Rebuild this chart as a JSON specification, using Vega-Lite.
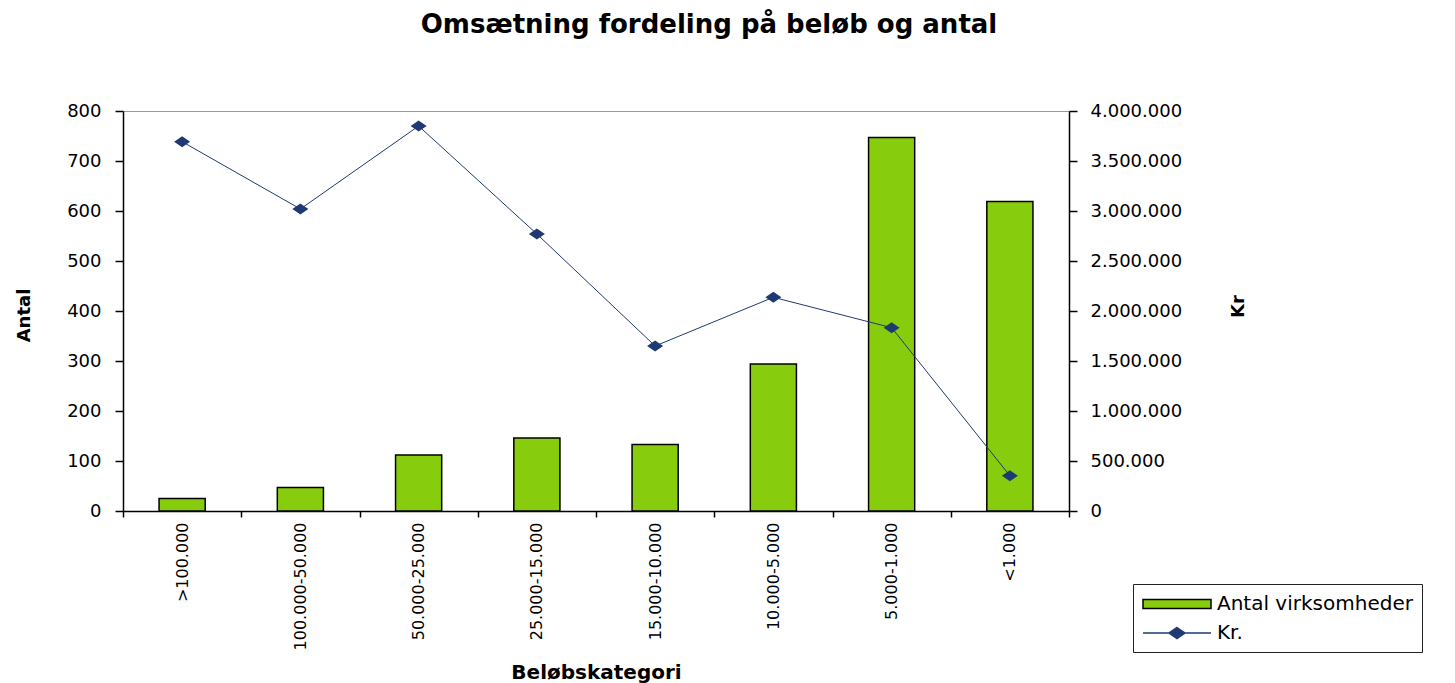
{
  "$schema": "https://vega.github.io/schema/vega-lite/v6.json",
  "width": 946,
  "height": 400,
  "autosize": "none",
  "padding": {"left": 123, "top": 111, "right": 386, "bottom": 172},
  "background": "white",
  "title": {
    "text": "Omsætning fordeling på beløb og antal",
    "font": "DejaVu Sans",
    "fontSize": 26,
    "fontWeight": "bold",
    "color": "black",
    "anchor": "middle",
    "frame": "group",
    "dx": 113,
    "baseline": "alphabetic",
    "offset": 43
  },
  "data": {
    "values": [
      {"kategori": ">100.000", "antal": 25, "kr": 3693000},
      {"kategori": "100.000-50.000", "antal": 47, "kr": 3020000},
      {"kategori": "50.000-25.000", "antal": 112, "kr": 3850000},
      {"kategori": "25.000-15.000", "antal": 146, "kr": 2770000},
      {"kategori": "15.000-10.000", "antal": 133, "kr": 1650000},
      {"kategori": "10.000-5.000", "antal": 294, "kr": 2137000},
      {"kategori": "5.000-1.000", "antal": 747, "kr": 1833000},
      {"kategori": "<1.000", "antal": 619, "kr": 353000}
    ]
  },
  "encoding": {
    "x": {
      "field": "kategori",
      "type": "nominal",
      "sort": null,
      "scale": {"paddingInner": 0, "paddingOuter": 0},
      "axis": {
        "title": "Beløbskategori",
        "titleFontSize": 20,
        "titleFontWeight": "bold",
        "titleY": 161,
        "titleBaseline": "middle",
        "labelAngle": 270,
        "labelAlign": "right",
        "labelBaseline": "middle",
        "labelFontSize": 16,
        "labelPadding": 5,
        "tickBand": "extent",
        "tickSize": 6
      }
    }
  },
  "layer": [
    {
      "mark": {"type": "bar", "width": {"band": 0.39}, "strokeWidth": 1.5},
      "encoding": {
        "y": {
          "field": "antal",
          "type": "quantitative",
          "scale": {"domain": [0, 800]},
          "axis": {
            "orient": "left",
            "title": "Antal",
            "titleFontSize": 18,
            "titleFontWeight": "bold",
            "titleAngle": 270,
            "titleX": -99,
            "titleY": 204,
            "titleAlign": "center",
            "titleBaseline": "middle",
            "values": [0, 100, 200, 300, 400, 500, 600, 700, 800],
            "labelFontSize": 18,
            "labelPadding": 14,
            "tickSize": 8
          }
        },
        "fill": {
          "datum": "Antal virksomheder",
          "scale": {"domain": ["Antal virksomheder", "Kr."], "range": ["#88CC0E", "#1F3A73"]},
          "legend": {
            "title": null,
            "orient": "none",
            "legendX": 1010,
            "legendY": 473,
            "padding": 9,
            "strokeColor": "#222222",
            "symbolSize": 400,
            "symbolStrokeWidth": 1.5,
            "symbolOffset": 24,
            "labelOffset": 29,
            "labelLimit": 400,
            "labelFont": "DejaVu Sans",
            "labelFontSize": 20,
            "labelColor": "black",
            "rowPadding": 8
          }
        },
        "stroke": {
          "datum": "Antal virksomheder",
          "scale": {"domain": ["Antal virksomheder", "Kr."], "range": ["#000000", "#1F3A73"]},
          "legend": {"title": null}
        }
      }
    },
    {
      "encoding": {
        "y": {
          "field": "kr",
          "type": "quantitative",
          "scale": {"domain": [0, 4000000]},
          "axis": {
            "orient": "right",
            "title": "Kr",
            "titleFontSize": 18,
            "titleFontWeight": "bold",
            "titleAngle": 270,
            "titleX": 169,
            "titleY": 195,
            "titleAlign": "center",
            "titleBaseline": "middle",
            "values": [0, 500000, 1000000, 1500000, 2000000, 2500000, 3000000, 3500000, 4000000],
            "labelExpr": "replace(format(datum.value, ','), regexp(',', 'g'), '.')",
            "labelFontSize": 18,
            "labelPadding": 13,
            "tickSize": 8
          }
        }
      },
      "layer": [
        {
          "mark": {"type": "line", "strokeWidth": 1},
          "encoding": {
            "stroke": {
              "datum": "Kr.",
              "scale": {"domain": ["Antal virksomheder", "Kr."], "range": ["#000000", "#1F3A73"]},
              "legend": {"title": null}
            }
          }
        },
        {
          "mark": {"type": "point", "filled": true, "size": 400, "opacity": 1},
          "encoding": {
            "fill": {
              "datum": "Kr.",
              "scale": {"domain": ["Antal virksomheder", "Kr."], "range": ["#88CC0E", "#1F3A73"]},
              "legend": {"title": null}
            },
            "shape": {
              "datum": "Kr.",
              "scale": {"domain": ["Antal virksomheder", "Kr."], "range": ["M-3.4,-0.45H3.4V0.45H-3.4Z", "M-3.4,0H3.4M0,-0.55L0.8,0L0,0.55L-0.8,0Z"]},
              "legend": {"title": null}
            }
          }
        }
      ]
    }
  ],
  "resolve": {"scale": {"y": "independent"}},
  "config": {
    "view": {"stroke": "#999999", "strokeWidth": 1},
    "axis": {
      "labelFont": "DejaVu Sans",
      "titleFont": "DejaVu Sans",
      "labelColor": "black",
      "titleColor": "black",
      "domainColor": "black",
      "tickColor": "black",
      "domainWidth": 1.5,
      "tickWidth": 1.5,
      "grid": false
    }
  }
}
